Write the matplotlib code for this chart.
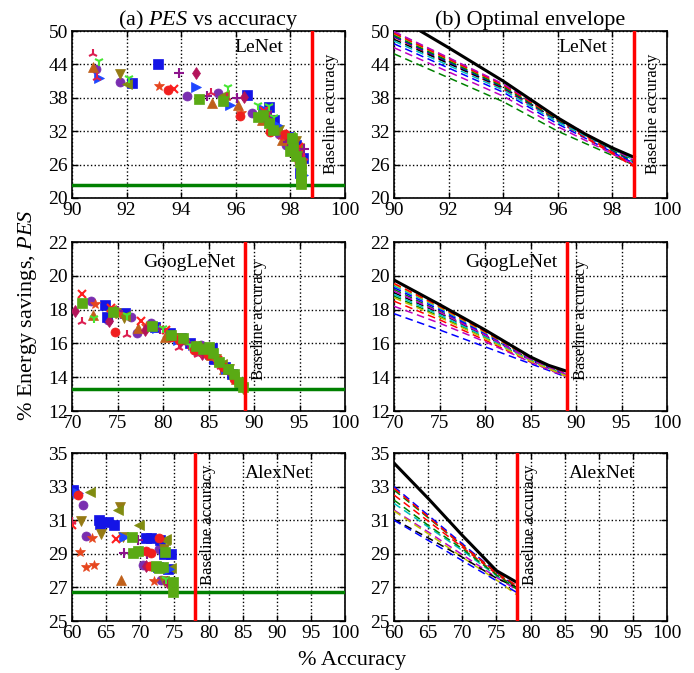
import matplotlib
matplotlib.use('Agg')
import matplotlib.pyplot as plt

plt.rcParams['font.family'] = ['Liberation Serif', 'DejaVu Serif']
plt.rcParams['mathtext.fontset'] = 'custom'
plt.rcParams['mathtext.rm'] = 'Liberation Serif'
plt.rcParams['mathtext.it'] = 'Liberation Serif:italic'

# ---------------- data ----------------
nets = ['LeNet', 'GoogLeNet', 'AlexNet']
baseline_acc = [98.8, 89.0, 78.0]
baseline_pes = [22.4, 13.3, 26.7]
xlims = [(90, 100), (70, 100), (60, 100)]
xticks = [range(90, 101, 2), range(70, 101, 5), range(60, 101, 5)]
ylims = [(20, 50), (12, 22), (25, 35)]
yticks = [range(20, 51, 6), range(12, 23, 2), range(25, 36, 2)]

# scatter series (accuracy, PES) per configuration
lenet_pts = {
    'purple_o': [(90.87, 43.1), (91.75, 40.9), (94.23, 38.3), (95.35, 38.9), (96.6, 35.2), (97.1, 34.0),
                 (97.6, 31.5), (97.85, 29.5), (98.1, 29.3), (98.3, 28.0), (98.4, 26.0)],
    'blue_s': [(92.2, 40.7), (93.14, 44.0), (96.4, 38.5), (97.2, 36.3), (97.4, 34.0), (97.9, 31.0),
               (98.2, 29.5), (98.45, 27.2), (98.35, 24.5)],
    'brown_up': [(90.78, 43.55), (95.14, 37.1), (96.08, 36.7), (96.95, 34.0), (97.25, 32.5), (97.7, 30.5),
                 (98.1, 29.6), (98.3, 27.5), (98.4, 25.0)],
    'olive_down': [(91.75, 42.2), (97.0, 35.5), (97.6, 32.2), (98.2, 30.2), (98.4, 23.8)],
    'olive_left': [(92.0, 40.4), (95.56, 38.5), (97.1, 35.0), (97.5, 32.3), (98.0, 31.0), (98.3, 29.0),
                   (98.4, 26.3)],
    'blue_right': [(91.0, 41.5), (94.53, 39.9), (95.8, 36.7), (97.0, 36.0), (97.5, 33.2), (98.2, 28.6),
                   (98.45, 24.2)],
    'red_x': [(93.75, 39.5), (97.05, 35.6), (97.8, 31.2), (98.3, 29.1), (98.4, 27.0)],
    'purple_plus': [(93.93, 42.5), (94.96, 38.3), (96.05, 37.9), (97.3, 34.8), (97.9, 30.0), (98.5, 28.8)],
    'orange_star': [(93.2, 40.2), (96.2, 35.3), (97.3, 32.0), (97.95, 30.5), (98.35, 26.0)],
    'crimson_d': [(94.56, 42.4), (96.3, 38.1), (97.15, 33.8), (97.85, 31.4), (98.3, 27.8)],
    'lime_tri': [(91.0, 44.7), (92.1, 41.6), (95.7, 39.9), (96.8, 36.7), (97.2, 36.5), (97.4, 34.5),
                 (98.05, 31.3)],
    'crimson_tri': [(90.78, 45.9), (90.9, 41.5), (95.08, 38.9), (95.68, 38.0), (97.1, 35.5), (97.7, 31.0),
                    (98.2, 29.0), (98.5, 27.2)],
    'red_o': [(93.5, 39.4), (96.15, 34.8), (97.25, 31.8), (97.8, 31.5), (98.15, 28.0), (98.3, 26.5),
              (98.4, 25.3)],
    'green_s': [(94.65, 37.8), (95.54, 37.5), (96.8, 34.5), (97.0, 34.9), (97.2, 33.4), (97.35, 32.3),
                (98.05, 30.8), (98.1, 29.0), (98.2, 27.5), (98.35, 26.5), (98.4, 25.0), (98.4, 24.0),
                (98.4, 23.2), (98.38, 22.5), (98.0, 28.5)],
}

googlenet_pts = {
    'purple_o': [(72.1, 18.5), (74.0, 17.4), (76.5, 17.55), (77.1, 16.6), (78.7, 17.2), (80.6, 16.4),
                 (82.3, 16.2), (83.6, 15.55), (84.2, 15.9), (85.0, 15.4), (86.2, 14.9), (87.3, 14.4)],
    'blue_s': [(73.6, 18.3), (73.8, 17.55), (75.8, 17.8), (79.1, 17.0), (80.8, 16.6), (82.0, 16.3),
               (83.0, 16.0), (84.5, 15.7), (85.4, 15.7), (85.6, 15.1), (86.8, 14.6), (87.6, 14.2),
               (88.5, 13.6)],
    'brown_up': [(72.3, 17.7), (77.2, 16.9), (80.2, 16.35), (82.5, 16.25), (84.0, 15.8), (85.3, 15.3),
                 (86.7, 14.5), (88.0, 13.9)],
    'olive_down': [(74.8, 17.8), (75.7, 17.5), (81.5, 16.3), (83.8, 15.7), (85.8, 15.1), (87.2, 14.5),
                   (88.8, 13.3)],
    'olive_left': [(74.3, 17.95), (75.8, 17.6), (82.0, 16.2), (84.8, 15.6), (86.5, 14.8), (87.8, 14.0)],
    'blue_right': [(79.3, 16.9), (81.7, 16.2), (83.3, 15.9), (85.2, 15.4), (86.9, 14.5)],
    'red_x': [(71.1, 18.9), (74.3, 18.1), (77.6, 17.35), (80.3, 16.8), (83.2, 15.9), (86.0, 15.0)],
    'purple_plus': [(75.0, 17.9), (79.7, 16.85), (82.8, 16.0), (84.6, 15.5), (87.0, 14.4)],
    'orange_star': [(72.5, 18.35), (75.1, 17.75), (78.1, 17.05), (81.2, 16.4), (83.5, 15.7), (85.9, 14.9),
                    (88.2, 13.8)],
    'crimson_d': [(70.3, 17.92), (74.1, 17.3), (78.0, 16.8), (81.9, 16.1), (84.3, 15.4), (87.4, 14.3)],
    'lime_tri': [(72.4, 17.5), (76.0, 17.7), (80.0, 16.9), (83.0, 15.9), (85.7, 15.2)],
    'crimson_tri': [(71.1, 17.27), (76.0, 16.5), (81.8, 15.73), (83.9, 15.3), (86.4, 14.6), (88.4, 13.6)],
    'red_o': [(74.7, 16.7), (80.9, 16.35), (81.8, 16.2), (83.4, 15.6), (84.9, 15.3), (86.6, 14.6),
              (87.8, 13.9)],
    'green_s': [(71.1, 18.4), (74.5, 17.85), (78.8, 17.05), (80.9, 16.5), (82.2, 16.3), (83.6, 15.85),
                (84.4, 15.65), (85.0, 15.8), (85.5, 15.45), (86.2, 14.9), (87.1, 14.5), (87.8, 14.2),
                (88.4, 13.7), (88.8, 13.4)],
}

alexnet_pts = {
    'purple_o': [(60.5, 32.7), (61.6, 31.9), (62.1, 30.05), (70.4, 28.33), (72.7, 29.27), (73.1, 27.44)],
    'blue_s': [(60.2, 32.8), (63.9, 31.0), (64.1, 30.75), (65.3, 30.9), (66.1, 30.7), (70.8, 29.96),
               (71.6, 29.92), (72.9, 29.82), (73.5, 29.0), (74.5, 28.99), (74.0, 28.08), (72.6, 28.2)],
    'brown_up': [(67.2, 27.44)],
    'olive_down': [(61.3, 30.95), (64.3, 30.15), (67.0, 31.8), (67.5, 30.0), (73.5, 29.27), (73.5, 27.4)],
    'olive_left': [(62.6, 32.7), (66.8, 31.6), (69.8, 30.7), (73.8, 29.9), (74.5, 28.17), (73.6, 29.82)],
    'blue_right': [(60.9, 32.6), (67.6, 30.0), (74.2, 28.1)],
    'red_x': [(60.0, 30.7), (66.5, 29.86)],
    'purple_plus': [(67.6, 29.07), (69.7, 29.8), (71.0, 29.0), (74.0, 27.35)],
    'orange_star': [(62.0, 28.2), (63.2, 28.35), (62.9, 29.96), (61.2, 29.1), (72.0, 27.4)],
    'crimson_d': [(70.9, 28.25), (73.9, 27.3)],
    'lime_tri': [(73.8, 27.5)],
    'crimson_tri': [(60.0, 30.9)],
    'red_o': [(60.9, 32.5), (70.9, 29.17), (71.6, 29.03), (72.7, 29.92), (71.5, 28.27), (74.6, 27.35)],
    'green_s': [(68.8, 30.0), (68.9, 29.07), (69.7, 29.17), (72.3, 28.27), (72.8, 28.17), (74.8, 27.34),
                (74.8, 26.7), (73.3, 28.2), (73.6, 29.1)],
}

# optimal envelope: dashed curves per configuration and best (black) curve
lenet_env_x = [90, 94, 96, 98.8]
lenet_env_y = [
    [47.7, 39.0, 33.3, 26.2], [45.9, 37.3, 32.0, 25.9], [48.9, 39.6, 33.8, 25.6],
    [49.8, 40.4, 34.3, 26.4], [47.0, 38.3, 32.8, 26.0], [49.5, 40.2, 34.1, 26.6],
    [48.5, 39.8, 34.0, 26.8], [49.0, 39.9, 33.9, 26.3], [49.2, 40.0, 34.0, 26.5],
    [49.6, 40.3, 34.2, 25.8], [48.2, 39.4, 33.6, 26.9], [49.9, 40.5, 34.4, 26.7],
]
lenet_best_x = [90, 91, 92, 94, 96, 97, 98, 98.8]
lenet_best_y = [52.8, 49.9, 47.0, 41.0, 34.4, 31.5, 29.0, 27.3]

googlenet_env_x = [70, 75, 80, 85, 89]
googlenet_env_y = [
    [17.76, 16.8, 15.8, 14.8, 14.0], [19.2, 17.9, 16.5, 15.0, 14.1], [18.5, 17.4, 16.2, 14.9, 14.05],
    [19.4, 18.1, 16.6, 15.1, 14.15], [18.2, 17.2, 16.1, 14.9, 14.0], [19.5, 18.15, 16.65, 15.1, 14.2],
    [19.0, 17.8, 16.45, 15.05, 14.1], [19.3, 18.0, 16.55, 15.05, 14.15], [18.8, 17.6, 16.35, 15.0, 14.1],
    [19.55, 18.2, 16.7, 15.15, 14.25], [18.9, 17.7, 16.4, 15.0, 14.1], [19.1, 17.85, 16.5, 15.05, 14.15],
    [18.7, 17.55, 16.3, 14.95, 14.05],
]
googlenet_best_x = [70, 75, 80, 85, 87, 89]
googlenet_best_y = [19.75, 18.3, 16.8, 15.2, 14.7, 14.35]

alexnet_env_x = [60, 65, 70, 75, 78]
alexnet_env_y = [
    [33.0, 31.3, 29.6, 27.9, 27.0], [32.8, 31.15, 29.5, 27.85, 27.0], [32.5, 30.95, 29.4, 27.8, 26.95],
    [32.0, 30.6, 29.2, 27.7, 26.9], [31.6, 30.3, 28.95, 27.6, 26.85], [31.55, 30.2, 28.8, 27.45, 26.55],
    [31.05, 29.95, 28.8, 27.55, 27.0], [31.0, 29.8, 28.6, 27.4, 26.7], [32.2, 30.7, 29.3, 27.75, 26.9],
    [32.9, 31.2, 29.5, 27.9, 27.1],
]
alexnet_best_x = [60, 65, 70, 75, 78]
alexnet_best_y = [34.4, 32.3, 30.1, 28.0, 27.3]

# ---------------- styles ----------------
marker_style = {
    'purple_o': ('o', '#7a2eb0', 6.5),
    'blue_s': ('s', '#1414e6', 6.5),
    'brown_up': ('^', '#c0601a', 6.5),
    'olive_down': ('v', '#957a14', 6.5),
    'olive_left': ('<', '#808c10', 6.5),
    'blue_right': ('>', '#1e46ff', 6.5),
    'red_x': ('x', '#ff1e1e', 6),
    'purple_plus': ('+', '#8c148c', 6.5),
    'orange_star': ('*', '#e6461e', 7),
    'crimson_d': ('d', '#b4145a', 6.5),
    'lime_tri': ('1', '#46e632', 7),
    'crimson_tri': ('2', '#dc1e50', 7),
    'red_o': ('o', '#f01e1e', 6.5),
    'green_s': ('s', '#5aaa14', 7),
}
line_colors = ['b', 'g', 'r', 'c', 'm', 'y', 'k']

pts_all = [lenet_pts, googlenet_pts, alexnet_pts]
env_all = [(lenet_env_x, lenet_env_y, lenet_best_x, lenet_best_y),
           (googlenet_env_x, googlenet_env_y, googlenet_best_x, googlenet_best_y),
           (alexnet_env_x, alexnet_env_y, alexnet_best_x, alexnet_best_y)]

W, H = 694, 673
fig = plt.figure(figsize=(W / 100, H / 100), dpi=100)

col_left = [72, 394]
row_top = [31, 242, 453]
row_bot = [198, 411, 621]
ax_w = 273

label_pos = [[(0.685, 0.90), (0.69, 0.90)],
             [(0.43, 0.88), (0.43, 0.88)],
             [(0.755, 0.88), (0.76, 0.88)]]
base_txt_dx = [0.68, 1.5, 1.9]
base_txt_y = [0.506, 0.538, 0.574]


def style_axes(ax, i):
    ax.set_xlim(*xlims[i])
    ax.set_ylim(*ylims[i])
    ax.set_xticks(list(xticks[i]))
    ax.set_yticks(list(yticks[i]))
    ax.tick_params(direction='in', top=True, right=True, length=4, width=1,
                   labelsize=14, pad=3)
    ax.grid(True, linestyle=':', color='k', linewidth=1.0)
    ax.set_axisbelow(True)
    for sp in ax.spines.values():
        sp.set_linewidth(1.2)
    ax.axvline(baseline_acc[i], color='#ff0000', lw=2.5, zorder=5)
    ax.text(baseline_acc[i] + base_txt_dx[i], base_txt_y[i], 'Baseline accuracy',
            transform=ax.get_xaxis_transform(), rotation=90,
            ha='center', va='center', fontsize=12, zorder=6)


for i in range(3):
    b = (H - row_bot[i]) / H
    h = (row_bot[i] - row_top[i]) / H
    axl = fig.add_axes([col_left[0] / W, b, ax_w / W, h])
    axr = fig.add_axes([col_left[1] / W, b, ax_w / W, h])

    # left: PES vs accuracy
    style_axes(axl, i)
    axl.axhline(baseline_pes[i], color='#008000', lw=2.5, zorder=4)
    for name, pts in pts_all[i].items():
        m, c, ms = marker_style[name]
        xs = [p[0] for p in pts]
        ys = [p[1] for p in pts]
        mew = 1.5 if m in ('x', '+', '1', '2') else 0.5
        zo = 4.5 if name == 'green_s' else 3
        axl.plot(xs, ys, linestyle='none', marker=m, color=c, mec=c, ms=ms, mew=mew,
                 zorder=zo, clip_on=True)
    axl.text(*label_pos[i][0], nets[i], transform=axl.transAxes, ha='center', va='center',
             fontsize=14)

    # right: optimal envelope
    style_axes(axr, i)
    ex, ey, bx, by = env_all[i]
    for k, ys in enumerate(ey):
        axr.plot(ex, ys, linestyle='--', color=line_colors[k % len(line_colors)], lw=1.1,
                 dashes=(5, 3), zorder=3)
    axr.plot(bx, by, color='k', lw=2.2, zorder=4)
    axr.text(*label_pos[i][1], nets[i], transform=axr.transAxes, ha='center', va='center',
             fontsize=14)

    if i == 0:
        axl.set_title('(a) $PES$ vs accuracy', fontsize=16, pad=4)
        axr.set_title('(b) Optimal envelope', fontsize=16, pad=4)

fig.text(28 / W, 0.532, '% Energy savings, $PES$', rotation=90, ha='center', va='center',
         fontsize=16)
fig.text(0.507, 0.018, '% Accuracy', ha='center', va='center', fontsize=16)

fig.savefig('out.png', dpi=100)
